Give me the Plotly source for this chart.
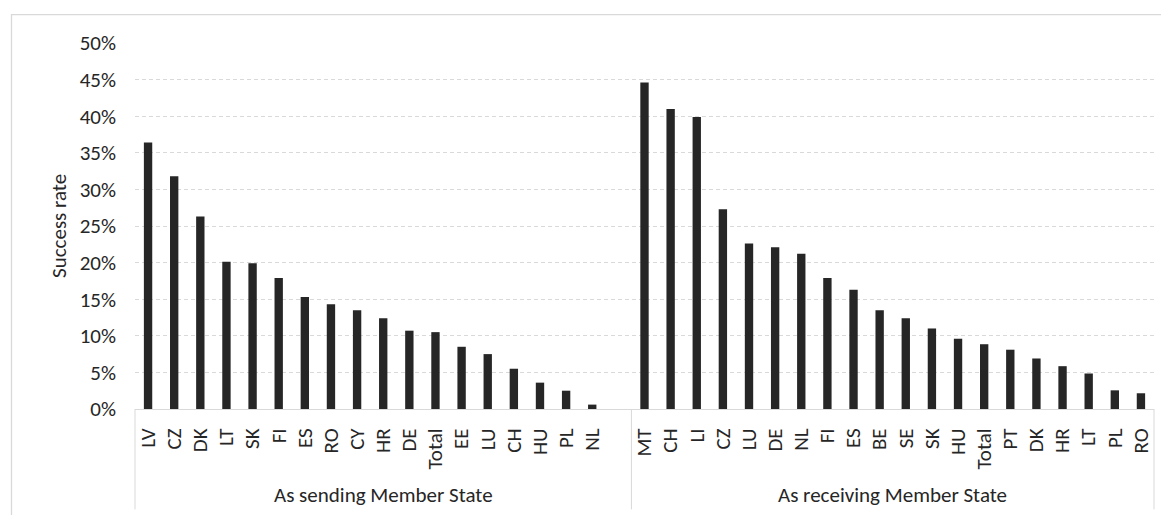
import plotly.graph_objects as go

# ---- data ----
group_names = ["As sending Member State", "As receiving Member State"]

sending_labels = ["LV", "CZ", "DK", "LT", "SK", "FI", "ES", "RO", "CY", "HR",
                  "DE", "Total", "EE", "LU", "CH", "HU", "PL", "NL"]
sending_values = [36.4, 31.8, 26.3, 20.1, 19.9, 17.9, 15.3, 14.3, 13.5, 12.4,
                  10.7, 10.5, 8.5, 7.5, 5.5, 3.6, 2.5, 0.6]

receiving_labels = ["MT", "CH", "LI", "CZ", "LU", "DE", "NL", "FI", "ES", "BE",
                    "SE", "SK", "HU", "Total", "PT", "DK", "HR", "LT", "PL", "RO"]
receiving_values = [44.6, 41.0, 39.9, 27.3, 22.6, 22.1, 21.2, 17.9, 16.3, 13.5,
                    12.4, 11.0, 9.6, 8.85, 8.1, 6.9, 5.85, 4.85, 2.55, 2.15]

y_ticks = [0, 5, 10, 15, 20, 25, 30, 35, 40, 45, 50]

# ---- build categories (unique keys, one empty slot closing the first group) ----
keys, texts, vals = [], [], []
for lab, v in zip(sending_labels, sending_values):
    keys.append("S|" + lab); texts.append(lab); vals.append(v / 100)
keys.append("S|blank"); texts.append(""); vals.append(None)
for lab, v in zip(receiving_labels, receiving_values):
    keys.append("R|" + lab); texts.append(lab); vals.append(v / 100)

n_total = len(keys)
n_first = len(sending_labels) + 1

FONT = "Carlito, Lato, sans-serif"
FS = 21
TXT = "#262626"
GRID = "#d9d9d9"

fig = go.Figure(go.Bar(x=keys, y=vals, marker=dict(color="#262626", line=dict(width=0)),
                       width=0.32, showlegend=False))

# page body has an 8px margin: work in window pixels and shift
OFF = 8
W, H = 1169 - OFF, 515 - OFF
plot_l, plot_r, plot_t, plot_b = 135, 1154, 43, 409.5   # window pixels
ml, mr = plot_l - OFF, (W + OFF) - plot_r
mt, mb = plot_t - OFF, (H + OFF) - plot_b
pw = plot_r - plot_l
ph = plot_b - plot_t

def px_x(p):
    return (p - plot_l) / pw

def px_y(p):
    return (plot_b - p) / ph

shapes = []
# category box lines
for xp in [0, n_first / n_total, 1]:
    shapes.append(dict(type="line", xref="paper", yref="paper", x0=xp, x1=xp,
                       y0=0, y1=px_y(510), line=dict(color=GRID, width=1)))
# outer chart border
shapes.append(dict(type="rect", xref="paper", yref="paper",
                   x0=px_x(11.5), x1=px_x(1190), y0=px_y(14.5), y1=px_y(540),
                   line=dict(color=GRID, width=1.3), fillcolor="rgba(0,0,0,0)"))

annotations = [
    dict(text=group_names[0], xref="paper", yref="paper", x=n_first / n_total / 2,
         y=px_y(496), xanchor="center", yanchor="middle", showarrow=False,
         font=dict(family=FONT, size=FS, color=TXT)),
    dict(text=group_names[1], xref="paper", yref="paper", x=(1 + n_first / n_total) / 2,
         y=px_y(496), xanchor="center", yanchor="middle", showarrow=False,
         font=dict(family=FONT, size=FS, color=TXT)),
    dict(text="Success rate", xref="paper", yref="paper", x=px_x(59), y=0.5,
         xanchor="center", yanchor="middle", textangle=-90, showarrow=False,
         font=dict(family=FONT, size=FS, color=TXT)),
]

fig.update_layout(
    width=W, height=H,
    margin=dict(l=ml, r=mr, t=mt, b=mb, pad=0),
    paper_bgcolor="white", plot_bgcolor="white",
    bargap=0.68,
    shapes=shapes, annotations=annotations,
    font=dict(family=FONT, size=FS, color=TXT),
    xaxis=dict(type="category", categoryorder="array", categoryarray=keys,
               tickmode="array", tickvals=keys, ticktext=texts, tickangle=-90,
               showgrid=False, showline=True, linecolor=GRID, linewidth=1,
               ticks="", ticklabelstandoff=10, zeroline=False,
               range=[-0.5, n_total - 0.5], fixedrange=True),
    yaxis=dict(range=[0, 0.5], tickmode="array", tickvals=[t / 100 for t in y_ticks],
               tickformat=".0%", showgrid=True, gridcolor=GRID, gridwidth=1,
               griddash="4px,3px", zeroline=False, showline=False, ticks="",
               ticklabelstandoff=18, fixedrange=True),
)

fig.write_html("out.html")
